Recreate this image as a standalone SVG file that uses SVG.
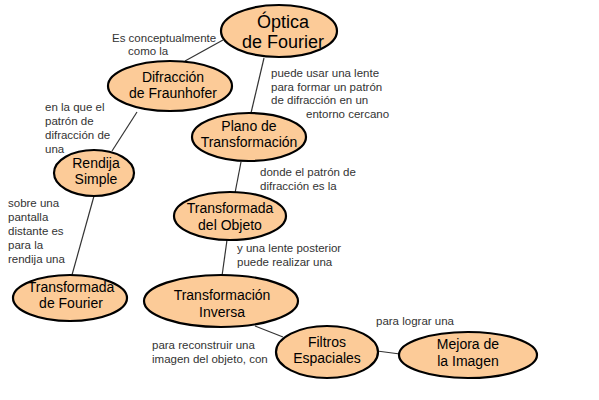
<svg xmlns="http://www.w3.org/2000/svg" width="599" height="400" viewBox="0 0 599 400">
<style>
.n ellipse{fill:#FCCB98;stroke:#000;stroke-width:2.2}
.n text{font-family:"Liberation Sans",Arial,sans-serif;font-size:14px;fill:#000;text-anchor:middle}
.lbl{font-family:"Liberation Sans",Arial,sans-serif;font-size:11.5px;fill:#333}
#conn line{stroke:#333;stroke-width:1.2}
</style>
<rect width="599" height="400" fill="#fff"/>
<g id="conn">
<line x1="223" y1="40" x2="185" y2="61"/>
<line x1="264" y1="58" x2="251" y2="113"/>
<line x1="137" y1="112" x2="112" y2="151"/>
<line x1="94" y1="196" x2="72" y2="275"/>
<line x1="241" y1="162" x2="235" y2="193"/>
<line x1="227" y1="240" x2="222" y2="276"/>
<line x1="255" y1="326" x2="283" y2="337"/>
<line x1="377" y1="351" x2="400" y2="354"/>
</g>
<g id="labels">
<text class="lbl" x="112" y="42">Es conceptualmente</text>
<text class="lbl" x="128" y="55">como la</text>
<text class="lbl" x="271" y="77">puede usar una lente</text>
<text class="lbl" x="271" y="91">para formar un patrón</text>
<text class="lbl" x="271" y="104">de difracción en un</text>
<text class="lbl" x="306" y="118">entorno cercano</text>
<text class="lbl" x="45" y="111">en la que el</text>
<text class="lbl" x="45" y="125">patrón de</text>
<text class="lbl" x="45" y="139">difracción de</text>
<text class="lbl" x="45" y="153">una</text>
<text class="lbl" x="8" y="207">sobre una</text>
<text class="lbl" x="8" y="221">pantalla</text>
<text class="lbl" x="8" y="235">distante es</text>
<text class="lbl" x="8" y="249">para la</text>
<text class="lbl" x="8" y="263">rendija una</text>
<text class="lbl" x="260" y="176">donde el patrón de</text>
<text class="lbl" x="260" y="190">difracción es la</text>
<text class="lbl" x="237" y="252">y una lente posterior</text>
<text class="lbl" x="237" y="266">puede realizar una</text>
<text class="lbl" x="152" y="349">para reconstruir una</text>
<text class="lbl" x="152" y="363">imagen del objeto, con</text>
<text class="lbl" x="376" y="325">para lograr una</text>
</g>
<g id="optica" class="n"><ellipse cx="279" cy="31" rx="58" ry="26"/><text x="283" y="28" style="font-size:18px">Óptica</text><text x="283" y="48" style="font-size:18px">de Fourier</text></g>
<g id="difraccion" class="n"><ellipse cx="170" cy="86" rx="62" ry="25"/><text x="173" y="82">Difracción</text><text x="173" y="98">de Fraunhofer</text></g>
<g id="rendija" class="n"><ellipse cx="94" cy="173" rx="40" ry="23"/><text x="96" y="168">Rendija</text><text x="96" y="184">Simple</text></g>
<g id="tfourier" class="n"><ellipse cx="70" cy="298" rx="57" ry="23"/><text x="71" y="292">Transformada</text><text x="71" y="308">de Fourier</text></g>
<g id="plano" class="n"><ellipse cx="249" cy="137" rx="57" ry="24"/><text x="249" y="131">Plano de</text><text x="249" y="147">Transformación</text></g>
<g id="tobjeto" class="n"><ellipse cx="230" cy="216" rx="56" ry="24"/><text x="230" y="213">Transformada</text><text x="230" y="230">del Objeto</text></g>
<g id="inversa" class="n"><ellipse cx="221" cy="301" rx="77" ry="26"/><text x="222" y="300">Transformación</text><text x="222" y="317">Inversa</text></g>
<g id="filtros" class="n"><ellipse cx="327" cy="352" rx="51" ry="26"/><text x="327" y="347">Filtros</text><text x="327" y="363">Espaciales</text></g>
<g id="mejora" class="n"><ellipse cx="468" cy="355" rx="69" ry="23"/><text x="468" y="349">Mejora de</text><text x="468" y="366">la Imagen</text></g>
</svg>
